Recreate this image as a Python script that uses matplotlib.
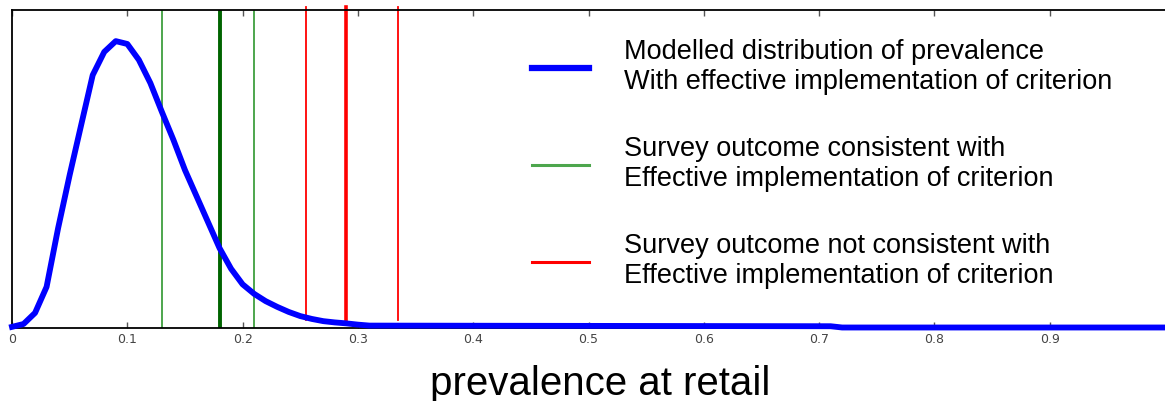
#!/usr/bin/env python3

import matplotlib
matplotlib.use("Agg")
import matplotlib.pyplot as plt

# modelled distribution of prevalence (density)
prev_x = [0.00, 0.01, 0.02, 0.03, 0.04, 0.05, 0.06, 0.07, 0.08, 0.09,
          0.10, 0.11, 0.12, 0.13, 0.14, 0.15, 0.16, 0.17, 0.18, 0.19,
          0.20, 0.21, 0.22, 0.23, 0.24, 0.25, 0.26, 0.27, 0.28, 0.29,
          0.30, 0.31, 0.71, 0.72, 1.00]
density = [0.02, 0.11, 0.46, 1.28, 3.13, 4.80, 6.38, 7.95, 8.68, 9.02,
           8.93, 8.43, 7.70, 6.79, 5.91, 4.96, 4.14, 3.32, 2.50, 1.85,
           1.36, 1.06, 0.83, 0.65, 0.49, 0.36, 0.27, 0.20, 0.16, 0.13,
           0.09, 0.06, 0.04, 0.00, 0.00]

# survey outcomes (value, number of surveys at that value)
ok_outcomes = [0.13, 0.18, 0.21]
ok_counts = [1, 2, 1]
bad_outcomes = [0.255, 0.29, 0.335]
bad_counts = [1, 2, 1]

xticks = [0, 0.1, 0.2, 0.3, 0.4, 0.5, 0.6, 0.7, 0.8, 0.9]
xticklabels = ["0", "0.1", "0.2", "0.3", "0.4", "0.5", "0.6", "0.7", "0.8", "0.9"]

labels = ["Modelled distribution of prevalence\nWith effective implementation of criterion",
          "Survey outcome consistent with\nEffective implementation of criterion",
          "Survey outcome not consistent with\nEffective implementation of criterion"]

fig = plt.figure(figsize=(11.65, 4.01), dpi=100)
ax = fig.add_axes([12/1165, 73.5/401, 1153/1165, 317.5/401])

blue, = ax.plot(prev_x, density, color="#0000ff", lw=4.2, clip_on=False, zorder=5,
                solid_joinstyle="round")

ok_colors = {1: "#4da64d", 2: "#006400"}
for x, n in zip(ok_outcomes, ok_counts):
    g = ax.axvline(x, color=ok_colors[n], lw=1.4*n, zorder=2)
    if n == 1:
        green = g
for x, n in zip(bad_outcomes, bad_counts):
    r = ax.axvline(x, ymin=0.025, ymax=1.01, color="#ff0000", lw=1.3*n,
                   clip_on=False, zorder=2)
    if n == 1:
        red = r

ax.set_xlim(0, 1)
ax.set_ylim(0, 10)
ax.set_yticks([])
ax.set_xticks(xticks)
ax.set_xticklabels(xticklabels, fontsize=9, color="#444444")
ax.tick_params(axis="x", direction="in", top=True, length=4.5, width=1,
               color="#555555", pad=4)
ax.spines["right"].set_visible(False)
for s in ("left", "top", "bottom"):
    ax.spines[s].set_linewidth(1.3)

ax.set_xlabel("prevalence at retail", fontsize=29, family="Liberation Sans")
ax.xaxis.label.set_va("baseline")
ax.xaxis.set_label_coords(0.51, -(395 - 327.5) / 317.5)

leg = ax.legend([blue, green, red], labels, loc="upper left",
                bbox_to_anchor=(532/1165, 1 - 39/401), bbox_transform=fig.transFigure,
                frameon=False, borderpad=0, borderaxespad=0,
                prop={"family": "Liberation Sans", "size": 19.5},
                handlelength=2.1, handletextpad=1.3, labelspacing=1.52)
for line in leg.get_lines()[1:]:
    line.set_linewidth(2.2)
leg.get_lines()[0].set_linewidth(4.5)

fig.savefig("out.png", dpi=100)
